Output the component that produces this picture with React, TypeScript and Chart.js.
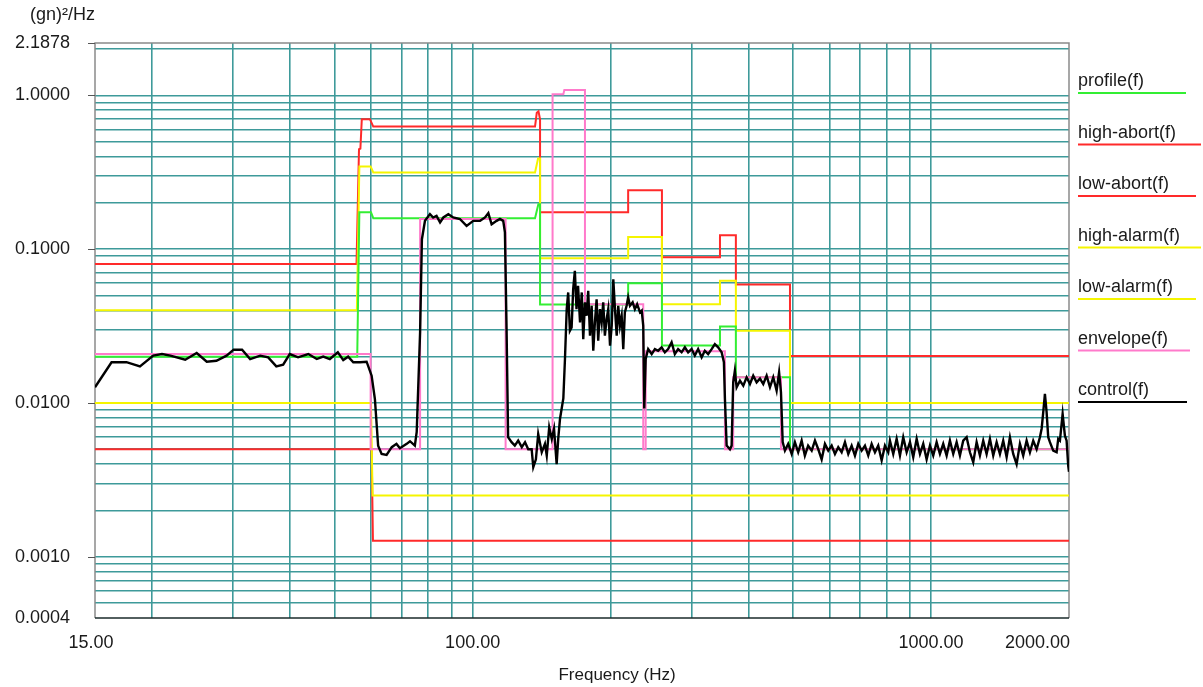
import React, { useEffect, useRef } from 'react';
import { Chart, registerables } from 'chart.js';

Chart.register(...registerables);

const FONT = '"Liberation Sans", Arial, sans-serif';

// ---- Axis labels ----
const xTickValues = [15, 100, 1000, 2000];
const xTickText = ['15.00', '100.00', '1000.00', '2000.00'];
const yTickValues = [2.1878, 1, 0.1, 0.01, 0.001, 0.0004];
const yTickText = ['2.1878', '1.0000', '0.1000', '0.0100', '0.0010', '0.0004'];
const yTitle = '(gn)²/Hz';
const xTitle = 'Frequency (Hz)';
const xMin = 15;
const xMax = 2000;
const yMin = 0.0004;
const yMax = 2.1878;
const gridMultipliers = [1, 2, 3, 4, 5, 6, 7, 8, 9];
const xDecades = [10, 100, 1000];
const yDecades = [0.0001, 0.001, 0.01, 0.1, 1];

// ---- Series ----
const profileF = [15, 56.0, 56.6, 60.0, 60.7, 136.8, 139.1, 140.3, 140.3, 218.4, 218.4, 258.8, 258.8, 346.4, 346.4, 375.2, 375.2, 492.4, 492.4, 2000];
const profileV = [0.02, 0.02, 0.174, 0.174, 0.159, 0.159, 0.196, 0.196, 0.0437, 0.0437, 0.06, 0.06, 0.0236, 0.0236, 0.0314, 0.0314, 0.0147, 0.0147, 0.005, 0.005];

const highAbortF = [15, 55.8, 56.5, 56.9, 57.3, 59.7, 60.7, 136.8, 138.0, 139.2, 140.3, 140.3, 218.4, 218.4, 258.8, 258.8, 346.4, 346.4, 375.2, 375.2, 492.4, 492.4, 2000];
const highAbortV = [0.08, 0.08, 0.446, 0.45, 0.698, 0.698, 0.626, 0.626, 0.77, 0.787, 0.698, 0.174, 0.174, 0.241, 0.241, 0.0887, 0.0887, 0.123, 0.123, 0.059, 0.059, 0.0202, 0.0202];

const lowAbortF = [15, 60.2, 60.6, 2000];
const lowAbortV = [0.005, 0.005, 0.00127, 0.00127];

const highAlarmF = [15, 55.9, 56.6, 59.9, 60.7, 136.8, 138.9, 140.3, 140.3, 218.4, 218.4, 258.8, 258.8, 346.4, 346.4, 375.2, 375.2, 492.4, 492.4, 2000];
const highAlarmV = [0.04, 0.04, 0.344, 0.344, 0.315, 0.315, 0.388, 0.388, 0.0874, 0.0874, 0.12, 0.12, 0.0439, 0.0439, 0.0622, 0.0622, 0.0295, 0.0295, 0.01, 0.01];

const lowAlarmF = [15, 60.0, 60.5, 2000];
const lowAlarmV = [0.01, 0.01, 0.0025, 0.0025];

const envelopeF = [15, 59.9, 59.9, 76.8, 76.8, 118.0, 118.0, 149.4, 149.4, 157.7, 158.5, 175.8, 175.8, 235.6, 235.6, 238.5, 238.5, 355.1, 355.1, 370.2, 370.2, 470.6, 470.6, 2000];
const envelopeV = [0.0208, 0.0208, 0.005, 0.005, 0.157, 0.157, 0.005, 0.005, 1.015, 1.015, 1.082, 1.082, 0.0439, 0.0439, 0.005, 0.005, 0.0217, 0.0217, 0.005, 0.005, 0.0147, 0.0147, 0.005, 0.005];

const controlF = [
  15, 16.3, 17.57, 18.8, 20.1, 21.0, 21.9, 23.6, 25.0, 26.3, 27.6, 29.05, 30.1, 31.4, 32.7, 34.4, 35.8, 37.3, 38.6, 39.9,
  41.6, 43.8, 45.7, 47.2, 48.8, 50.8, 52.2, 53.5, 54.9, 56.8, 58.7, 60.2, 61.2, 62.2, 63.3, 64.9, 66.6, 68.2, 69.4, 71.8,
  73.0, 74.8, 75.5, 76.8, 77.5, 78.7, 80.7, 82.0, 83.4, 84.9, 86.3, 88.5, 90.7, 93.8, 97.0, 100.3, 103.8, 106.4, 108.2, 110.0,
  112.8, 114.7, 116.6, 117.6, 118.6, 119.5, 121.6, 123.6, 125.7, 128.0, 130.1, 132.2, 134.5, 135.6, 137.4, 139.0, 141.5, 143.8, 145.1, 146.9,
  148.8, 150.5, 152.5, 153.7, 155.1, 157.7, 159.0, 160.4, 161.6, 163.0, 164.4, 165.7, 167.1, 168.5, 169.8, 171.5, 173.0, 174.3, 175.8, 177.3,
  178.7, 180.3, 181.8, 183.3, 184.8, 186.4, 187.9, 189.6, 191.2, 192.7, 194.3, 196.0, 197.6, 199.4, 201.1, 202.7, 204.4, 206.2, 207.8, 209.6,
  211.4, 213.1, 214.8, 216.7, 218.4, 220.4, 223.4, 225.9, 228.5, 231.8, 233.8, 235.6, 236.8, 238.5, 241.5, 245.8, 249.8, 253.9, 258.4, 262.6,
  267.0, 271.7, 276.1, 280.7, 285.7, 290.4, 295.2, 300.4, 305.3, 310.4, 315.9, 321.0, 326.4, 332.2, 337.6, 343.2, 349.3, 353.3, 355.1, 358.2,
  364.2, 367.3, 370.2, 373.3, 376.6, 383.0, 389.4, 396.0, 402.7, 409.4, 416.4, 423.5, 430.5, 437.9, 445.3, 452.7, 460.4, 466.2, 470.6, 474.7,
  480.0, 488.0, 496.6, 504.7, 513.1, 522.1, 530.6, 539.4, 549.1, 558.2, 567.6, 577.3, 586.9, 596.8, 607.1, 617.2, 627.5, 638.3, 649.0, 659.9,
  671.2, 682.4, 693.9, 705.8, 717.6, 729.6, 742.1, 754.5, 767.1, 780.4, 793.4, 806.7, 813.6, 827.2, 841.4, 855.5, 869.8, 884.8, 899.6, 914.6,
  930.4, 945.9, 961.7, 978.2, 994.6, 1011.2, 1028.6, 1045.8, 1063.3, 1081.6, 1099.7, 1118.1, 1137.3, 1156.3, 1175.6, 1195.8, 1215.9, 1236.2, 1257.5, 1278.5,
  1299.9, 1322.2, 1344.4, 1366.9, 1390.4, 1413.6, 1437.2, 1462.0, 1486.4, 1511.2, 1537.2, 1563.0, 1589.1, 1616.5, 1643.5, 1671.0, 1699.7, 1728.2, 1743.1, 1757.1,
  1772.1, 1787.3, 1801.8, 1817.2, 1847.6, 1879.4, 1894.6, 1910.8, 1937.0, 1959.3, 1976.1, 1992.2, 2000,
];
const controlV = [
  0.01265, 0.01838, 0.0184, 0.0173, 0.0203, 0.0208, 0.0203, 0.0191, 0.0211, 0.01854, 0.01882, 0.0203, 0.0222, 0.0222, 0.0193, 0.0203, 0.0198, 0.0173, 0.01773, 0.0208,
  0.0198, 0.0208, 0.0193, 0.02, 0.0193, 0.02135, 0.019, 0.02, 0.0184, 0.0184, 0.01854, 0.01504, 0.0106, 0.00528, 0.00466, 0.0046, 0.00516, 0.00542, 0.00508, 0.00542,
  0.00564, 0.00528, 0.00648, 0.0289, 0.116, 0.1527, 0.1688, 0.1606, 0.1645, 0.1491, 0.1606, 0.1688, 0.1606, 0.157, 0.1416, 0.1527, 0.1527, 0.1606, 0.1713, 0.145,
  0.1527, 0.157, 0.1527, 0.1284, 0.0289, 0.00599, 0.00556, 0.00528, 0.00569, 0.00516, 0.00556, 0.005, 0.005, 0.00382, 0.0043, 0.00629, 0.00478, 0.00542, 0.00455, 0.00696,
  0.00584, 0.0068, 0.004, 0.00584, 0.0079, 0.0107, 0.0193, 0.0407, 0.0523, 0.02948, 0.031, 0.0549, 0.0723, 0.0407, 0.0578, 0.0334, 0.0523, 0.026, 0.0451, 0.0369,
  0.0536, 0.02735, 0.0428, 0.02186, 0.0334, 0.0472, 0.0254, 0.0407, 0.0334, 0.0451, 0.02735, 0.035, 0.0407, 0.02356, 0.03177, 0.0637, 0.0407, 0.02735, 0.0428, 0.03177,
  0.0369, 0.0224, 0.0388, 0.0428, 0.0486, 0.0428, 0.0451, 0.0407, 0.0439, 0.0388, 0.0398, 0.03177, 0.0092, 0.0193, 0.0224, 0.0208, 0.0224, 0.02186, 0.023, 0.02135,
  0.0224, 0.0248, 0.0208, 0.0224, 0.02135, 0.023, 0.02135, 0.0224, 0.0203, 0.0224, 0.0198, 0.02186, 0.0208, 0.0224, 0.0241, 0.023, 0.02135, 0.0184, 0.0107, 0.00528,
  0.005, 0.00528, 0.01362, 0.0162, 0.01265, 0.01396, 0.01295, 0.01468, 0.01328, 0.01504, 0.01362, 0.0144, 0.01328, 0.01504, 0.01265, 0.01468, 0.01202, 0.01583, 0.01173, 0.00556,
  0.0049, 0.00542, 0.00466, 0.00556, 0.00478, 0.00569, 0.00455, 0.00528, 0.0049, 0.00569, 0.005, 0.0043, 0.00542, 0.0049, 0.00528, 0.00466, 0.00516, 0.00478, 0.00556, 0.00466,
  0.00528, 0.00455, 0.00542, 0.0049, 0.00528, 0.00455, 0.00542, 0.00478, 0.00528, 0.00423, 0.00528, 0.00478, 0.00569, 0.00466, 0.00584, 0.00455, 0.00599, 0.00478, 0.00556, 0.00444,
  0.00584, 0.00466, 0.00542, 0.0043, 0.00528, 0.00455, 0.00556, 0.00466, 0.00542, 0.00455, 0.00569, 0.00466, 0.00556, 0.00455, 0.00569, 0.00599, 0.00478, 0.00412, 0.00556, 0.00455,
  0.00569, 0.00466, 0.00584, 0.00455, 0.00556, 0.00466, 0.00569, 0.00444, 0.00599, 0.00466, 0.004, 0.00542, 0.00455, 0.00569, 0.00478, 0.00569, 0.005, 0.00599, 0.0068, 0.0087,
  0.01144, 0.0087, 0.00599, 0.00556, 0.0049, 0.00478, 0.00584, 0.00569, 0.00848, 0.00613, 0.00569, 0.0039, 0.00357,
];

const seriesNames = ['profile(f)', 'high-abort(f)', 'low-abort(f)', 'high-alarm(f)', 'low-alarm(f)', 'envelope(f)', 'control(f)'];

const COLORS = {
  profile: '#33ee33',
  abort: '#ff2a2a',
  alarm: '#f5f500',
  envelope: '#ff7acb',
  control: '#000000',
};
const legendColors = [COLORS.profile, COLORS.abort, COLORS.abort, COLORS.alarm, COLORS.alarm, COLORS.envelope, COLORS.control];
const legendLineLengths = [108, 123, 118, 123, 118, 112, 109];
const GRID = 'rgb(62,154,154)';

const pts = (f: number[], v: number[]) => f.map((x, i) => ({ x, y: v[i] }));

const buildGrid = (decades: number[], lo: number, hi: number) => {
  const out: number[] = [];
  decades.forEach((d) => gridMultipliers.forEach((m) => {
    const v = d * m;
    if (v > lo * 1.0001 && v < hi * 0.9999) out.push(v);
  }));
  return out;
};

const decorPlugin = {
  id: 'decor',
  beforeDatasetsDraw(chart: any) {
    const { ctx, chartArea: a } = chart;
    ctx.save();
    ctx.strokeStyle = '#8a8a8a';
    ctx.lineWidth = 1.5;
    ctx.beginPath();
    ctx.moveTo(a.left, a.bottom);
    ctx.lineTo(a.left, a.top);
    ctx.lineTo(a.right, a.top);
    ctx.lineTo(a.right, a.bottom);
    ctx.stroke();
    ctx.strokeStyle = '#1a2a2a';
    ctx.beginPath();
    ctx.moveTo(a.left, a.bottom);
    ctx.lineTo(a.right, a.bottom);
    ctx.stroke();
    // y tick marks
    const ys = chart.scales.y;
    ctx.strokeStyle = '#555';
    ctx.lineWidth = 1;
    yTickValues.forEach((v, i) => {
      if (i === yTickValues.length - 1) return;
      const py = Math.round(ys.getPixelForValue(v)) + 0.5;
      ctx.beginPath();
      ctx.moveTo(a.left - 7, py);
      ctx.lineTo(a.left, py);
      ctx.stroke();
    });
    ctx.restore();
  },
  afterDraw(chart: any) {
    const { ctx, chartArea: a } = chart;
    const xs = chart.scales.x;
    const ys = chart.scales.y;
    ctx.save();
    ctx.fillStyle = '#1a1a1a';
    ctx.font = `18px ${FONT}`;
    ctx.textBaseline = 'middle';
    ctx.textAlign = 'right';
    yTickValues.forEach((v, i) => {
      ctx.fillText(yTickText[i], 70, ys.getPixelForValue(v));
    });
    ctx.textAlign = 'left';
    ctx.fillText(yTitle, 30, 15);
    xTickValues.forEach((v, i) => {
      const px = xs.getPixelForValue(v);
      if (i === xTickValues.length - 1) {
        ctx.textAlign = 'right';
        ctx.fillText(xTickText[i], px + 1, 643);
      } else {
        ctx.textAlign = 'center';
        ctx.fillText(xTickText[i], i === 0 ? px - 4 : px, 643);
      }
    });
    ctx.textAlign = 'center';
    ctx.font = `17px ${FONT}`;
    ctx.fillText(xTitle, 617, 675);
    // legend
    ctx.font = `18px ${FONT}`;
    ctx.textAlign = 'left';
    ctx.textBaseline = 'alphabetic';
    seriesNames.forEach((name, i) => {
      const base = 86 + i * 51.5;
      ctx.fillStyle = '#1a1a1a';
      ctx.fillText(name, a.right + 9, base);
      ctx.strokeStyle = legendColors[i];
      ctx.lineWidth = 2;
      ctx.beginPath();
      ctx.moveTo(a.right + 9, base + 7);
      ctx.lineTo(a.right + 9 + legendLineLengths[i], base + 7);
      ctx.stroke();
    });
    ctx.restore();
  },
};

export default function App() {
  const ref = useRef<HTMLCanvasElement>(null);
  useEffect(() => {
    document.body.style.margin = '0';
    const xGrid = buildGrid(xDecades, xMin, xMax);
    const yGrid = buildGrid(yDecades, yMin, yMax);
    const line = (label: string, f: number[], v: number[], color: string, order: number, width = 2) => ({
      label,
      data: pts(f, v),
      borderColor: color,
      backgroundColor: color,
      borderWidth: width,
      pointRadius: 0,
      tension: 0,
      fill: false,
      order,
    });
    const chart = new Chart(ref.current!, {
      type: 'line',
      data: {
        datasets: [
          line(seriesNames[0], profileF, profileV, COLORS.profile, 2),
          line(seriesNames[1], highAbortF, highAbortV, COLORS.abort, 4),
          line(seriesNames[2], lowAbortF, lowAbortV, COLORS.abort, 4),
          line(seriesNames[3], highAlarmF, highAlarmV, COLORS.alarm, 3),
          line(seriesNames[4], lowAlarmF, lowAlarmV, COLORS.alarm, 3),
          line(seriesNames[5], envelopeF, envelopeV, COLORS.envelope, 1),
          line(seriesNames[6], controlF, controlV, COLORS.control, 0, 2.4),
        ],
      },
      options: {
        responsive: false,
        animation: false,
        layout: { padding: { left: 95, top: 43, right: 134, bottom: 69 } },
        plugins: { legend: { display: false }, tooltip: { enabled: false }, title: { display: false } },
        scales: {
          x: {
            type: 'logarithmic',
            min: xMin,
            max: xMax,
            afterBuildTicks: (s: any) => { s.ticks = xGrid.map((value) => ({ value })); },
            ticks: { display: false, autoSkip: false },
            grid: { color: GRID, lineWidth: 1.6, drawTicks: false },
            border: { display: false },
          },
          y: {
            type: 'logarithmic',
            min: yMin,
            max: yMax,
            afterBuildTicks: (s: any) => { s.ticks = yGrid.map((value) => ({ value })); },
            ticks: { display: false, autoSkip: false },
            grid: { color: GRID, lineWidth: 1.6, drawTicks: false },
            border: { display: false },
          },
        },
      },
      plugins: [decorPlugin],
    } as any);
    return () => chart.destroy();
  }, []);
  return (
    <div style={{ width: 1203, height: 687, background: '#fff' }}>
      <canvas ref={ref} width={1203} height={687} style={{ display: 'block' }} />
    </div>
  );
}
